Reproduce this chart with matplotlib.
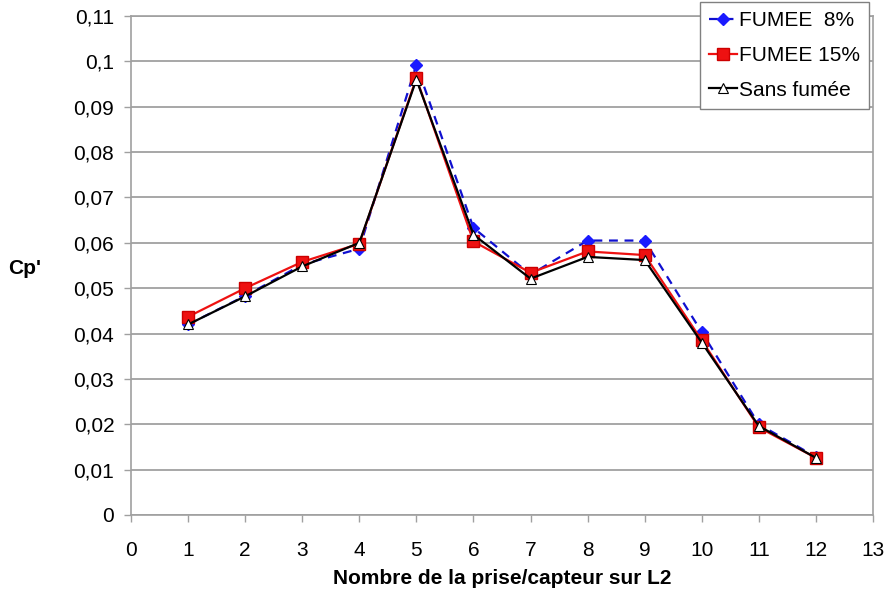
import matplotlib.pyplot as plt
from matplotlib.ticker import FuncFormatter, MultipleLocator

plt.rcParams['font.family'] = ['Liberation Sans', 'DejaVu Sans']

# Cp' per capteur, ligne L2
capteurs = [1, 2, 3, 4, 5, 6, 7, 8, 9, 10, 11, 12]
fumee_8 = [0.0420, 0.0483, 0.0552, 0.0587, 0.0993, 0.0633, 0.0530, 0.0605, 0.0605, 0.0403, 0.0200, 0.0128]
fumee_15 = [0.0437, 0.0500, 0.0558, 0.0598, 0.0963, 0.0603, 0.0534, 0.0581, 0.0573, 0.0385, 0.0193, 0.0126]
sans_fumee = [0.0420, 0.0482, 0.0548, 0.0600, 0.0960, 0.0618, 0.0521, 0.0569, 0.0562, 0.0380, 0.0196, 0.0126]

fig = plt.figure(figsize=(8.85, 5.93), dpi=100)
ax = fig.add_axes([131 / 885, 1 - 515 / 593, (873 - 131) / 885, (515 - 16) / 593])

ax.plot(capteurs, fumee_8, color='#1010d0', linestyle=(0, (4, 3)), linewidth=1.6,
        marker='D', markersize=6, markerfacecolor='#1a1aff', markeredgecolor='#1a1aff',
        label='FUMEE  8%', zorder=3)
ax.plot(capteurs, fumee_15, color='#ee1111', linewidth=1.6,
        marker='s', markersize=9, markerfacecolor='#ee1111', markeredgecolor='#cc0000',
        label='FUMEE 15%', zorder=4)
ax.plot(capteurs, sans_fumee, color='black', linewidth=1.6,
        marker='^', markersize=7, markerfacecolor='white', markeredgecolor='black',
        markeredgewidth=0.8, label='Sans fumée', zorder=5)

ax.set_xlim(0, 13)
ax.set_ylim(0, 0.11)
ax.xaxis.set_major_locator(MultipleLocator(1))
ax.yaxis.set_major_locator(MultipleLocator(0.01))


def virgule(v, pos):
    s = ('%.2f' % v).rstrip('0').rstrip('.')
    return s.replace('.', ',')


ax.yaxis.set_major_formatter(FuncFormatter(virgule))
ax.grid(axis='y', color='#a0a0a0', linewidth=1.3)
ax.set_axisbelow(True)
for sp in ax.spines.values():
    sp.set_color('#a0a0a0')
    sp.set_linewidth(1.2)
ax.tick_params(colors='#a0a0a0', labelcolor='black', labelsize=15, length=5, width=1)
ax.tick_params(axis='x', pad=14)
ax.tick_params(axis='y', pad=7)

fig.text(502 / 885, 1 - 578 / 593, 'Nombre de la prise/capteur sur L2',
         fontsize=15, fontweight='bold', ha='center', va='center')
fig.text(25 / 885, 1 - 268 / 593, "Cp'", fontsize=15, fontweight='bold', ha='center', va='center')

leg = ax.legend(loc='upper right', bbox_to_anchor=(869 / 885, 1 - 2 / 593),
                bbox_transform=fig.transFigure, borderaxespad=0, fontsize=15,
                handlelength=1.3, handletextpad=0.1, labelspacing=0.75,
                borderpad=0.45, fancybox=False, framealpha=1)
leg.get_frame().set_edgecolor('#808080')
leg.get_frame().set_linewidth(1.0)

fig.savefig('out.png', dpi=100)
